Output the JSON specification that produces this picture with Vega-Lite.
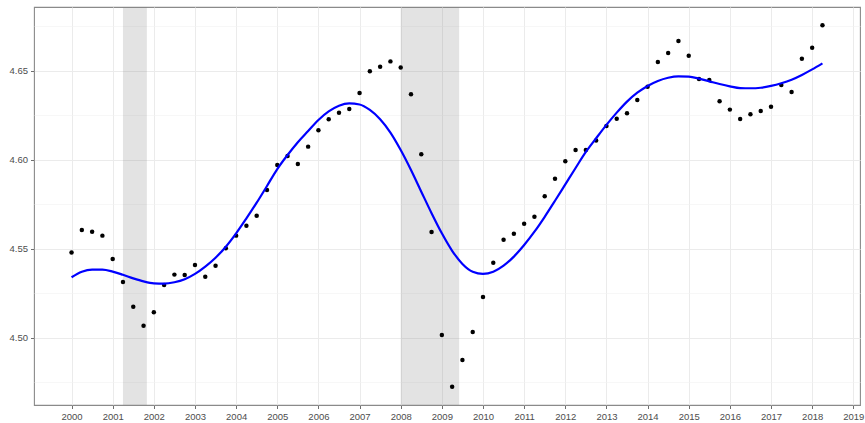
{
  "$schema": "https://vega.github.io/schema/vega-lite/v6.json",
  "width": 826,
  "height": 398,
  "autosize": {"type": "none"},
  "padding": {"left": 34, "top": 7, "right": 5, "bottom": 18},
  "background": "white",
  "config": {
    "view": {"stroke": "#8A8A8A", "strokeWidth": 1.1},
    "axis": {
      "labelFont": "Liberation Sans",
      "labelFontSize": 9.5,
      "labelColor": "#4D4D4D",
      "tickColor": "#6E6E6E",
      "tickSize": 3.5,
      "domain": false,
      "gridColor": "#EBEBEB",
      "gridWidth": 1,
      "title": null
    }
  },
  "datasets": {
    "points": [
      {"t": 2000.00, "v": 4.548}, {"t": 2000.25, "v": 4.5607}, {"t": 2000.50, "v": 4.5597}, {"t": 2000.75, "v": 4.5575},
      {"t": 2001.00, "v": 4.5444}, {"t": 2001.25, "v": 4.5315}, {"t": 2001.50, "v": 4.5176}, {"t": 2001.75, "v": 4.5069},
      {"t": 2002.00, "v": 4.5144}, {"t": 2002.25, "v": 4.5298}, {"t": 2002.50, "v": 4.5356}, {"t": 2002.75, "v": 4.5354},
      {"t": 2003.00, "v": 4.5410}, {"t": 2003.25, "v": 4.5344}, {"t": 2003.50, "v": 4.5406}, {"t": 2003.75, "v": 4.5504},
      {"t": 2004.00, "v": 4.5575}, {"t": 2004.25, "v": 4.5631}, {"t": 2004.50, "v": 4.5687}, {"t": 2004.75, "v": 4.5831},
      {"t": 2005.00, "v": 4.5972}, {"t": 2005.25, "v": 4.6022}, {"t": 2005.50, "v": 4.5978}, {"t": 2005.75, "v": 4.6075},
      {"t": 2006.00, "v": 4.6167}, {"t": 2006.25, "v": 4.6229}, {"t": 2006.50, "v": 4.6266}, {"t": 2006.75, "v": 4.6287},
      {"t": 2007.00, "v": 4.6376}, {"t": 2007.25, "v": 4.6498}, {"t": 2007.50, "v": 4.6524}, {"t": 2007.75, "v": 4.6554},
      {"t": 2008.00, "v": 4.6519}, {"t": 2008.25, "v": 4.6369}, {"t": 2008.50, "v": 4.6032}, {"t": 2008.75, "v": 4.5596},
      {"t": 2009.00, "v": 4.5017}, {"t": 2009.25, "v": 4.4726}, {"t": 2009.50, "v": 4.4876}, {"t": 2009.75, "v": 4.5034},
      {"t": 2010.00, "v": 4.5230}, {"t": 2010.25, "v": 4.5423}, {"t": 2010.50, "v": 4.5552}, {"t": 2010.75, "v": 4.5586},
      {"t": 2011.00, "v": 4.5642}, {"t": 2011.25, "v": 4.5681}, {"t": 2011.50, "v": 4.5796}, {"t": 2011.75, "v": 4.5895},
      {"t": 2012.00, "v": 4.5993}, {"t": 2012.25, "v": 4.6056}, {"t": 2012.50, "v": 4.6056}, {"t": 2012.75, "v": 4.6109},
      {"t": 2013.00, "v": 4.6191}, {"t": 2013.25, "v": 4.6232}, {"t": 2013.50, "v": 4.6262}, {"t": 2013.75, "v": 4.6337},
      {"t": 2014.00, "v": 4.6412}, {"t": 2014.25, "v": 4.6551}, {"t": 2014.50, "v": 4.6601}, {"t": 2014.75, "v": 4.6669},
      {"t": 2015.00, "v": 4.6586}, {"t": 2015.25, "v": 4.6455}, {"t": 2015.50, "v": 4.6449}, {"t": 2015.75, "v": 4.6330},
      {"t": 2016.00, "v": 4.6283}, {"t": 2016.25, "v": 4.6230}, {"t": 2016.50, "v": 4.6257}, {"t": 2016.75, "v": 4.6275},
      {"t": 2017.00, "v": 4.6299}, {"t": 2017.25, "v": 4.6421}, {"t": 2017.50, "v": 4.6382}, {"t": 2017.75, "v": 4.6569},
      {"t": 2018.00, "v": 4.6631}, {"t": 2018.25, "v": 4.6757}
    ],
    "smooth": [
      {"t": 2000.00, "v": 4.5341}, {"t": 2000.25, "v": 4.5372}, {"t": 2000.50, "v": 4.5384}, {"t": 2000.75, "v": 4.5384},
      {"t": 2001.00, "v": 4.5373}, {"t": 2001.25, "v": 4.5355}, {"t": 2001.50, "v": 4.5335}, {"t": 2001.75, "v": 4.5318},
      {"t": 2002.00, "v": 4.5307}, {"t": 2002.25, "v": 4.5305}, {"t": 2002.50, "v": 4.5313}, {"t": 2002.75, "v": 4.5330},
      {"t": 2003.00, "v": 4.5360}, {"t": 2003.25, "v": 4.5401}, {"t": 2003.50, "v": 4.5451}, {"t": 2003.75, "v": 4.5513},
      {"t": 2004.00, "v": 4.5588}, {"t": 2004.25, "v": 4.5672}, {"t": 2004.50, "v": 4.5760}, {"t": 2004.75, "v": 4.5854},
      {"t": 2005.00, "v": 4.5949}, {"t": 2005.25, "v": 4.6028}, {"t": 2005.50, "v": 4.6100}, {"t": 2005.75, "v": 4.6163},
      {"t": 2006.00, "v": 4.6225}, {"t": 2006.25, "v": 4.6273}, {"t": 2006.50, "v": 4.6305}, {"t": 2006.75, "v": 4.6318},
      {"t": 2007.00, "v": 4.6312}, {"t": 2007.25, "v": 4.6281}, {"t": 2007.50, "v": 4.6229}, {"t": 2007.75, "v": 4.6154},
      {"t": 2008.00, "v": 4.6056}, {"t": 2008.25, "v": 4.5944}, {"t": 2008.50, "v": 4.5822}, {"t": 2008.75, "v": 4.5701},
      {"t": 2009.00, "v": 4.5588}, {"t": 2009.25, "v": 4.5490}, {"t": 2009.50, "v": 4.5416}, {"t": 2009.75, "v": 4.5372},
      {"t": 2010.00, "v": 4.5360}, {"t": 2010.25, "v": 4.5372}, {"t": 2010.50, "v": 4.5406}, {"t": 2010.75, "v": 4.5457},
      {"t": 2011.00, "v": 4.5522}, {"t": 2011.25, "v": 4.5597}, {"t": 2011.50, "v": 4.5681}, {"t": 2011.75, "v": 4.5771},
      {"t": 2012.00, "v": 4.5863}, {"t": 2012.25, "v": 4.5955}, {"t": 2012.50, "v": 4.6045}, {"t": 2012.75, "v": 4.6122},
      {"t": 2013.00, "v": 4.6197}, {"t": 2013.25, "v": 4.6266}, {"t": 2013.50, "v": 4.6328}, {"t": 2013.75, "v": 4.6378},
      {"t": 2014.00, "v": 4.6416}, {"t": 2014.25, "v": 4.6444}, {"t": 2014.50, "v": 4.6462}, {"t": 2014.75, "v": 4.6470},
      {"t": 2015.00, "v": 4.6468}, {"t": 2015.25, "v": 4.6457}, {"t": 2015.50, "v": 4.6442}, {"t": 2015.75, "v": 4.6427},
      {"t": 2016.00, "v": 4.6414}, {"t": 2016.25, "v": 4.6404}, {"t": 2016.50, "v": 4.6403}, {"t": 2016.75, "v": 4.6406},
      {"t": 2017.00, "v": 4.6416}, {"t": 2017.25, "v": 4.6431}, {"t": 2017.50, "v": 4.6451}, {"t": 2017.75, "v": 4.6478},
      {"t": 2018.00, "v": 4.6509}, {"t": 2018.25, "v": 4.6543}
    ],
    "recessions": [
      {"start": 2001.25, "end": 2001.83},
      {"start": 2008.0, "end": 2009.42}
    ]
  },
  "layer": [
    {
      "data": {"name": "recessions"},
      "mark": {"type": "rect", "color": "#808080", "opacity": 0.22},
      "encoding": {
        "x": {
          "field": "start", "type": "quantitative",
          "scale": {"domain": [1999.0875, 2019.1625], "nice": false, "zero": false},
          "axis": {
            "values": [2000, 2001, 2002, 2003, 2004, 2005, 2006, 2007, 2008, 2009, 2010, 2011, 2012, 2013, 2014, 2015, 2016, 2017, 2018, 2019],
            "format": "d",
            "labelPadding": 3
          }
        },
        "x2": {"field": "end"}
      }
    },
    {
      "data": {"name": "points"},
      "mark": {"type": "circle", "color": "black", "opacity": 1, "size": 20},
      "encoding": {
        "x": {"field": "t", "type": "quantitative"},
        "y": {
          "field": "v", "type": "quantitative",
          "scale": {"domain": [4.46235, 4.68595], "nice": false, "zero": false},
          "axis": {
            "values": [4.475, 4.5, 4.525, 4.55, 4.575, 4.6, 4.625, 4.65, 4.675],
            "labelExpr": "(round(datum.value*1000) % 50 == 0) ? format(datum.value, '.2f') : ''",
            "gridWidth": {"condition": {"test": "round(datum.value*1000) % 50 == 0", "value": 1}, "value": 0.6},
            "gridColor": {"condition": {"test": "round(datum.value*1000) % 50 == 0", "value": "#EBEBEB"}, "value": "#F2F2F2"},
            "tickOpacity": {"condition": {"test": "round(datum.value*1000) % 50 == 0", "value": 1}, "value": 0},
            "labelPadding": 3
          }
        }
      }
    },
    {
      "data": {"name": "smooth"},
      "mark": {"type": "line", "color": "#0000FF", "strokeWidth": 2.2, "interpolate": "monotone"},
      "encoding": {
        "x": {"field": "t", "type": "quantitative"},
        "y": {"field": "v", "type": "quantitative"}
      }
    }
  ]
}
